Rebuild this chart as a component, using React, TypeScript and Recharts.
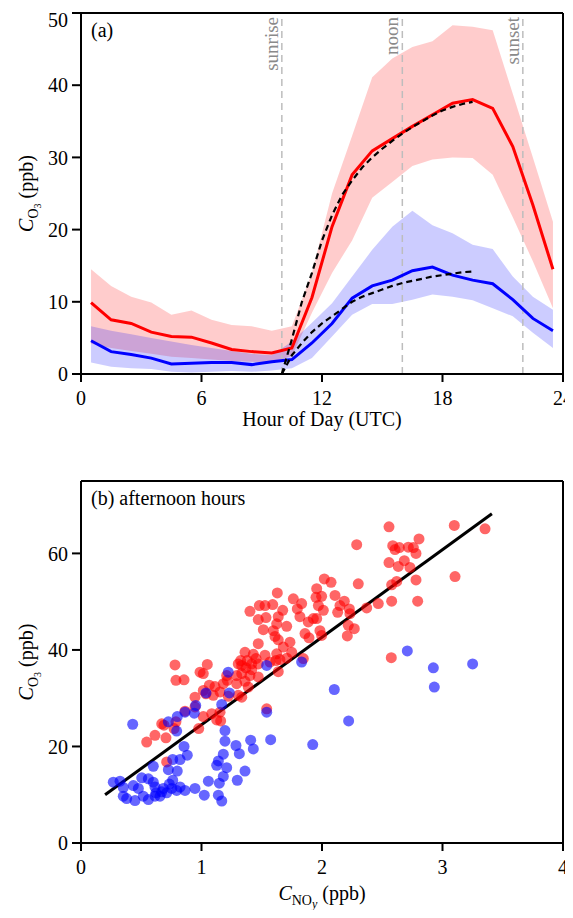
import React from 'react';
import { ComposedChart, Area, Line, Scatter, XAxis, YAxis, ReferenceLine } from 'recharts';

// (a) diurnal cycle, hourly means at half hours
const HOURS = [0.5, 1.5, 2.5, 3.5, 4.5, 5.5, 6.5, 7.5, 8.5, 9.5, 10.5, 11.5, 12.5, 13.5, 14.5, 15.5, 16.5, 17.5, 18.5, 19.5, 20.5, 21.5, 22.5, 23.5];
const RED_MEAN = [9.9, 7.5, 7.0, 5.8, 5.2, 5.1, 4.3, 3.4, 3.1, 2.9, 3.6, 10.6, 20.4, 27.6, 30.9, 32.6, 34.3, 35.9, 37.5, 38.0, 36.8, 31.5, 23.4, 14.5];
const RED_HI = [14.5, 12.2, 10.7, 9.9, 8.2, 8.8, 7.5, 6.8, 6.6, 6.0, 6.6, 14.0, 25.0, 33.0, 41.1, 43.7, 45.3, 46.1, 48.3, 48.1, 47.6, 38.8, 30.0, 21.1];
const RED_LO = [4.2, 3.6, 3.2, 2.8, 2.4, 2.2, 2.0, 1.8, 1.7, 1.6, 2.5, 8.5, 14.0, 18.5, 24.4, 26.6, 28.8, 29.7, 30.0, 29.9, 27.6, 21.7, 15.6, 9.1];
const BLUE_MEAN = [4.6, 3.1, 2.7, 2.2, 1.4, 1.5, 1.6, 1.6, 1.3, 1.7, 2.0, 4.3, 7.0, 10.5, 12.2, 13.0, 14.3, 14.8, 13.7, 13.0, 12.5, 10.3, 7.7, 6.0];
const BLUE_HI = [6.6, 6.0, 5.5, 5.0, 4.5, 4.0, 3.6, 3.2, 2.8, 2.6, 4.5, 7.1, 9.8, 13.5, 17.2, 20.4, 22.6, 20.6, 19.5, 17.9, 17.3, 13.5, 10.7, 8.9];
const BLUE_LO = [1.6, 1.0, 0.8, 0.7, 0.3, 0.2, 0.3, 0.4, 0.3, 0.5, 0.8, 2.2, 5.2, 8.2, 9.7, 9.7, 10.3, 11.0, 10.7, 10.2, 9.1, 8.0, 5.7, 3.6];

// fitted curves (dashed)
const FIT_HOURS = [10, 10.5, 11, 11.5, 12, 12.5, 13, 13.5, 14, 14.5, 15, 15.5, 16, 16.5, 17, 17.5, 18, 18.5, 19, 19.5];
const RED_FIT = [0.0, 4.8, 10.0, 14.0, 18.5, 22.0, 24.8, 26.8, 28.6, 30.0, 31.2, 32.3, 33.3, 34.2, 35.0, 35.8, 36.5, 37.0, 37.4, 37.7];
const BLUE_FIT = [0.0, 2.6, 4.3, 5.8, 7.0, 8.0, 9.0, 10.0, 10.7, 11.2, 11.7, 12.2, 12.6, 12.9, 13.2, 13.5, 13.7, 13.9, 14.1, 14.2];

const HOUR_TICKS = [0, 6, 12, 18, 24];
const O3_TICKS_A = [0, 10, 20, 30, 40, 50];
const EVENTS = [
  { hour: 10, name: 'sunrise' },
  { hour: 16, name: 'noon' },
  { hour: 22, name: 'sunset' },
];

// (b) afternoon hours scatter [NOy, O3]
const RED_POINTS = [
  [2.556, 65.5], [3.098, 65.8], [3.353, 65.1], [2.288, 61.8], [2.805, 63.0], [2.587, 61.6], [2.606, 60.8], [2.642, 61.2],
  [2.716, 61.3], [2.758, 61.2], [2.780, 60.0], [2.556, 58.1], [2.683, 58.5], [2.633, 57.3], [2.730, 57.1], [2.780, 54.5],
  [2.578, 53.5], [2.620, 54.2], [3.104, 55.2], [2.578, 50.1], [2.794, 50.1], [2.575, 38.4], [2.301, 53.7], [2.467, 49.6],
  [2.371, 48.7], [2.019, 54.7], [2.075, 54.0], [1.956, 52.7], [1.950, 50.9], [1.997, 51.1], [2.108, 51.3], [2.185, 50.1],
  [2.149, 49.2], [1.970, 49.2], [2.011, 48.2], [2.130, 47.8], [2.227, 48.5], [2.232, 47.5], [1.928, 46.5], [1.956, 46.5],
  [1.886, 45.8], [1.831, 49.6], [1.817, 46.9], [2.218, 45.1], [2.268, 44.4], [2.210, 42.9], [1.983, 44.0], [1.997, 43.0],
  [1.859, 43.4], [1.892, 42.5], [1.845, 38.2],
  [1.629, 51.8], [1.762, 50.6], [1.480, 49.2], [1.527, 49.2], [1.591, 49.4], [1.795, 48.5], [1.402, 48.0], [1.674, 48.2],
  [1.471, 46.3], [1.535, 46.7], [1.637, 46.9], [1.624, 45.4], [1.707, 44.9], [1.513, 44.2], [1.596, 44.0], [1.610, 42.8],
  [1.637, 42.1], [1.734, 41.6], [1.471, 41.3], [1.679, 40.6], [1.749, 39.5], [1.361, 39.5], [1.430, 39.1], [1.527, 38.9],
  [1.624, 39.2], [1.325, 37.8], [1.380, 37.8], [1.452, 38.2], [1.651, 38.0], [1.707, 38.3], [1.305, 37.1], [1.334, 36.8],
  [1.417, 37.1], [1.471, 37.1], [1.568, 37.5], [1.618, 37.8], [1.369, 36.3], [1.417, 35.9], [1.637, 35.5], [0.780, 36.9],
  [1.048, 37.0], [0.988, 35.4], [1.015, 35.1], [1.209, 34.7], [1.292, 34.7], [1.334, 35.1], [1.402, 34.7], [1.471, 34.4],
  [0.788, 33.7], [0.855, 33.8], [1.065, 32.7], [1.112, 32.4], [1.181, 33.0], [1.214, 33.7], [1.292, 33.0], [1.361, 33.5],
  [1.388, 32.3], [1.015, 31.6], [1.154, 31.3], [0.946, 30.2], [1.305, 30.6], [1.334, 30.2], [1.222, 30.4],
  [1.037, 30.9], [1.098, 30.6], [0.863, 27.3], [0.946, 28.2], [1.015, 26.2], [1.085, 26.8], [1.154, 27.1], [1.126, 25.5],
  [1.159, 25.3], [0.670, 24.7], [0.689, 24.4], [0.788, 25.1], [0.772, 23.7], [0.614, 22.3], [0.705, 21.8], [0.545, 20.9],
  [0.977, 23.7], [0.711, 16.8], [1.541, 27.8],
];
const BLUE_POINTS = [
  [2.708, 39.8], [2.924, 36.3], [3.250, 37.1], [1.831, 37.5], [2.932, 32.3], [2.102, 31.8], [2.221, 25.3], [1.923, 20.4],
  [1.222, 35.4], [1.541, 36.8], [1.037, 31.1], [1.231, 31.1], [0.429, 24.6], [0.799, 26.2], [0.863, 27.1], [0.940, 26.9],
  [0.952, 28.5], [1.168, 28.7], [0.794, 23.2], [0.725, 25.1], [1.195, 23.3], [1.195, 21.1], [1.286, 20.2], [1.314, 18.5],
  [1.408, 21.3], [1.430, 19.5], [1.181, 18.4], [1.140, 17.0], [1.126, 16.1], [1.209, 15.6], [1.181, 13.8], [1.361, 14.9],
  [1.297, 13.0], [1.148, 12.4], [1.057, 12.8], [0.946, 11.3], [1.023, 9.9], [1.140, 9.9], [1.168, 8.7], [0.855, 20.0],
  [0.882, 18.2], [0.822, 17.3], [0.761, 17.3], [0.600, 15.9], [0.725, 15.2], [0.799, 14.9], [0.761, 13.0], [0.733, 12.2],
  [0.822, 11.6], [0.863, 10.9], [0.794, 10.9], [0.753, 11.3], [0.683, 11.3], [0.711, 10.4], [0.670, 10.6], [0.614, 11.6],
  [0.622, 10.4], [0.559, 13.3], [0.504, 13.5], [0.600, 12.6], [0.614, 9.7], [0.559, 9.0], [0.656, 9.7], [0.517, 9.7],
  [0.448, 8.8], [0.379, 9.2], [0.351, 9.7], [0.434, 11.9], [0.476, 11.3], [0.351, 11.5], [0.324, 12.8], [0.268, 12.6],
  [1.541, 27.1], [1.574, 21.4],
];
// regression line end points
const FIT_NOY = [0.2, 3.41];
const FIT_O3 = [10.0, 68.2];

const NOY_TICKS = [0, 1, 2, 3, 4];
const O3_TICKS_B = [0, 20, 40, 60];

const FONT = '"Liberation Serif", "Times New Roman", serif';
const axisStyle = { stroke: '#000', strokeWidth: 2 };
const tickStyle = { fill: '#000', fontSize: 20, fontFamily: FONT };

const diurnal = HOURS.map((hour, i) => ({
  hour,
  red: RED_MEAN[i],
  redBand: [RED_LO[i], RED_HI[i]],
  blue: BLUE_MEAN[i],
  blueBand: [BLUE_LO[i], BLUE_HI[i]],
}));
const redFit = FIT_HOURS.map((hour, i) => ({ hour, fit: RED_FIT[i] }));
const blueFit = FIT_HOURS.map((hour, i) => ({ hour, fit: BLUE_FIT[i] }));
const redPts = RED_POINTS.map(([x, y]) => ({ x, y }));
const bluePts = BLUE_POINTS.map(([x, y]) => ({ x, y }));
const regression = FIT_NOY.map((x, i) => ({ x, y: FIT_O3[i] }));

// y axis title  C_{O_3} (ppb), rotated
const O3Title = (props: any) => {
  const { x, y, height } = props.viewBox;
  const cx = x + 25;
  const cy = y + height / 2;
  return (
    <text x={cx} y={cy} transform={`rotate(-90, ${cx}, ${cy})`} textAnchor="middle" fontFamily={FONT} fontSize={20} fill="#000">
      <tspan fontStyle="italic">C</tspan>
      <tspan fontSize={14} dy={5}>O</tspan>
      <tspan fontSize={10} dy={3}>3</tspan>
      <tspan dy={-8}> (ppb)</tspan>
    </text>
  );
};

const HourTitle = (props: any) => {
  const { x, y, width } = props.viewBox;
  return (
    <text x={x + width / 2} y={y + 52} textAnchor="middle" fontFamily={FONT} fontSize={20} fill="#000">
      Hour of Day (UTC)
    </text>
  );
};

const NoyTitle = (props: any) => {
  const { x, y, width } = props.viewBox;
  return (
    <text x={x + width / 2} y={y + 57} textAnchor="middle" fontFamily={FONT} fontSize={20} fill="#000">
      <tspan fontStyle="italic">C</tspan>
      <tspan fontSize={14} dy={5}>NO</tspan>
      <tspan fontSize={12} dy={3} fontStyle="italic">y</tspan>
      <tspan dy={-8}> (ppb)</tspan>
    </text>
  );
};

const eventLabel = (name: string) => (props: any) => {
  const { x, y } = props.viewBox;
  const tx = x - 4;
  const ty = y + 4;
  return (
    <text x={tx} y={ty} transform={`rotate(-90, ${tx}, ${ty})`} textAnchor="end" fontFamily={FONT} fontSize={19} fill="#8a8a8a">
      {name}
    </text>
  );
};

const panelLabel = (txt: string) => (props: any) => {
  const { x, y } = props.viewBox;
  return (
    <text x={x + 10} y={y + 24} fontFamily={FONT} fontSize={20} fill="#000">
      {txt}
    </text>
  );
};

const dot = (color: string) => (props: any) => (
  <circle cx={props.cx} cy={props.cy} r={5.5} fill={color} fillOpacity={0.6} />
);

const App: React.FC = () => {
  return (
    <div style={{ width: 565 }}>
      <style>{'.recharts-surface { overflow: visible; }'}</style>
      <ComposedChart width={565} height={440} data={diurnal} margin={{ top: 5, right: 10, bottom: 44, left: 0 }}>
        <XAxis
          type="number"
          dataKey="hour"
          domain={[0, 24]}
          ticks={HOUR_TICKS}
          allowDataOverflow
          height={30}
          axisLine={axisStyle}
          tickLine={axisStyle}
          tickSize={8}
          tickMargin={9}
          tick={tickStyle}
          label={{ content: HourTitle }}
        />
        <YAxis
          type="number"
          domain={[0, 50]}
          ticks={O3_TICKS_A}
          allowDataOverflow
          width={73}
          axisLine={axisStyle}
          tickLine={axisStyle}
          tickSize={9}
          tickMargin={4}
          tick={tickStyle}
          label={{ content: O3Title }}
        />
        <Area type="linear" dataKey="redBand" stroke="none" fill="#ff0000" fillOpacity={0.2} isAnimationActive={false} />
        <Area type="linear" dataKey="blueBand" stroke="none" fill="#0000ff" fillOpacity={0.2} isAnimationActive={false} />
        {EVENTS.map((e) => (
          <ReferenceLine
            key={e.name}
            x={e.hour}
            stroke="#bdbdbd"
            strokeWidth={1.5}
            strokeDasharray="7 5"
            label={{ content: eventLabel(e.name) }}
          />
        ))}
        <Line type="linear" dataKey="red" stroke="#ff0000" strokeWidth={3} dot={false} isAnimationActive={false} />
        <Line type="linear" dataKey="blue" stroke="#0000ff" strokeWidth={3} dot={false} isAnimationActive={false} />
        <Line data={redFit} type="linear" dataKey="fit" stroke="#000" strokeWidth={2.2} strokeDasharray="6 4" dot={false} isAnimationActive={false} />
        <Line data={blueFit} type="linear" dataKey="fit" stroke="#000" strokeWidth={2.2} strokeDasharray="6 4" dot={false} isAnimationActive={false} />
        <ReferenceLine y={50} stroke="#000" strokeWidth={2} label={{ content: panelLabel('(a)') }} />
        <ReferenceLine x={24} stroke="#000" strokeWidth={2} />
      </ComposedChart>

      <ComposedChart width={565} height={462} margin={{ top: 33, right: 10, bottom: 37, left: 0 }}>
        <XAxis
          type="number"
          dataKey="x"
          domain={[0, 4]}
          ticks={NOY_TICKS}
          allowDataOverflow
          height={30}
          axisLine={axisStyle}
          tickLine={axisStyle}
          tickSize={8}
          tickMargin={9}
          tick={tickStyle}
          label={{ content: NoyTitle }}
        />
        <YAxis
          type="number"
          dataKey="y"
          domain={[0, 75]}
          ticks={O3_TICKS_B}
          allowDataOverflow
          width={73}
          axisLine={axisStyle}
          tickLine={axisStyle}
          tickSize={9}
          tickMargin={4}
          tick={tickStyle}
          label={{ content: O3Title }}
        />
        <Scatter data={redPts} dataKey="y" shape={dot('#ff0000')} isAnimationActive={false} />
        <Scatter data={bluePts} dataKey="y" shape={dot('#0000ff')} isAnimationActive={false} />
        <Line data={regression} type="linear" dataKey="y" stroke="#000" strokeWidth={3} dot={false} isAnimationActive={false} />
        <ReferenceLine y={75} stroke="#000" strokeWidth={2} label={{ content: panelLabel('(b) afternoon hours') }} />
        <ReferenceLine x={4} stroke="#000" strokeWidth={2} />
      </ComposedChart>
    </div>
  );
};

export default App;
